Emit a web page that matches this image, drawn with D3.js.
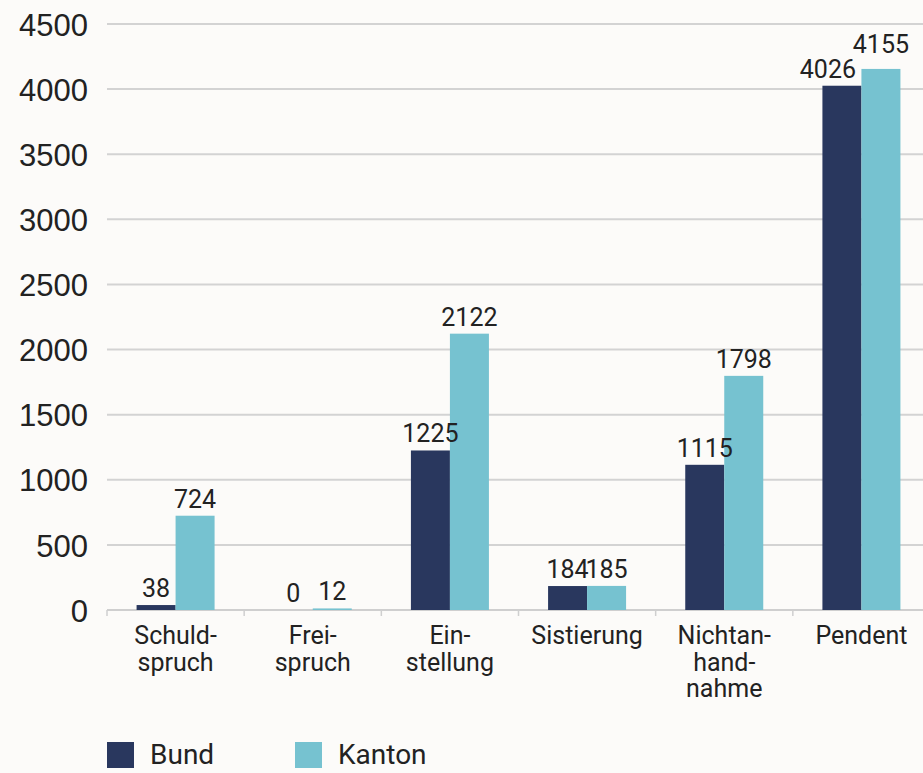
<!DOCTYPE html>
<html>
<head>
<meta charset="utf-8">
<script src="https://cdn.jsdelivr.net/npm/d3@7"></script>
<style>
  html, body { margin: 0; padding: 0; background: #fcfbf9; }
  svg { display: block; font-family: Roboto, "Noto Sans", sans-serif; }
</style>
</head>
<body>
<div id="plot"></div>
<script>
// Chart data
const categories = ["Schuldspruch", "Freispruch", "Einstellung", "Sistierung", "Nichtanhandnahme", "Pendent"];
const categoryLines = [["Schuld-", "spruch"], ["Frei-", "spruch"], ["Ein-", "stellung"], ["Sistierung"], ["Nichtan-", "hand-", "nahme"], ["Pendent"]];
const seriesNames = ["Bund", "Kanton"];
const bundValues = [38, 0, 1225, 184, 1115, 4026];
const kantonValues = [724, 12, 2122, 185, 1798, 4155];
const yTicks = [0, 500, 1000, 1500, 2000, 2500, 3000, 3500, 4000, 4500];

const colors = { Bund: "#29375e", Kanton: "#76c2d0" };

const width = 923;
const height = 773;
const margin = { top: 24, right: 0, bottom: 163, left: 107 };

const svg = d3.select("#plot")
  .append("svg")
  .attr("width", width)
  .attr("height", height);

// Scales (last band runs past the right edge, as in the original)
const x0 = d3.scaleBand()
  .domain(categories)
  .range([margin.left, 930])
  .padding(0);

const groupWidth = 78;
const x1 = d3.scaleBand()
  .domain(seriesNames)
  .range([(x0.bandwidth() - groupWidth) / 2, (x0.bandwidth() + groupWidth) / 2]);

const y = d3.scaleLinear()
  .domain([0, 4500])
  .range([height - margin.bottom, margin.top]);

// Gridlines
svg.append("g")
  .selectAll("line")
  .data(yTicks.filter(d => d > 0))
  .enter()
  .append("line")
  .attr("x1", margin.left)
  .attr("x2", width - margin.right)
  .attr("y1", d => y(d))
  .attr("y2", d => y(d))
  .attr("stroke", "#d3d3d3")
  .attr("stroke-width", 2);

// Y axis labels
const yAxis = svg.append("g")
  .attr("transform", `translate(${margin.left - 19},0)`)
  .call(d3.axisLeft(y).tickValues(yTicks).tickFormat(d3.format("d")).tickSize(0).tickPadding(0));
yAxis.select(".domain").remove();
yAxis.selectAll("text")
  .attr("font-size", "31px")
  .attr("fill", "#222")
  .attr("dy", "0.36em");

// X axis baseline with small ticks at band boundaries
const xAxis = svg.append("g")
  .attr("transform", `translate(0,${y(0)})`);
xAxis.append("line")
  .attr("x1", margin.left)
  .attr("x2", width - margin.right)
  .attr("stroke", "#cfcfcf")
  .attr("stroke-width", 2);
xAxis.selectAll(".tick")
  .data(categories)
  .enter()
  .append("line")
  .attr("x1", d => x0(d))
  .attr("x2", d => x0(d))
  .attr("y1", 0)
  .attr("y2", 6)
  .attr("stroke", "#cfcfcf")
  .attr("stroke-width", 1.5);

// Bars
const rows = categories.map((c, i) => ({
  category: c,
  values: [
    { key: "Bund", value: bundValues[i] },
    { key: "Kanton", value: kantonValues[i] }
  ]
}));

const groups = svg.append("g")
  .selectAll("g")
  .data(rows)
  .enter()
  .append("g")
  .attr("transform", d => `translate(${x0(d.category)},0)`);

groups.selectAll("rect")
  .data(d => d.values)
  .enter()
  .append("rect")
  .attr("x", d => x1(d.key))
  .attr("y", d => y(d.value))
  .attr("width", x1.bandwidth())
  .attr("height", d => y(0) - y(d.value))
  .attr("fill", d => colors[d.key]);

// Value labels (nudge the Pendent pair apart so they don't collide)
const labelShift = { "Pendent-Bund": [-14, 0], "Pendent-Kanton": [0, -8] };
groups.each(function (row) {
  d3.select(this).selectAll("text.value")
    .data(row.values)
    .enter()
    .append("text")
    .attr("class", "value")
    .attr("x", d => x1(d.key) + x1.bandwidth() / 2 + (labelShift[row.category + "-" + d.key] || [0, 0])[0])
    .attr("y", d => y(d.value) - 8 + (labelShift[row.category + "-" + d.key] || [0, 0])[1])
    .attr("text-anchor", "middle")
    .attr("font-size", "25px")
    .attr("fill", "#222")
    .text(d => d.value);
});

// Category labels
categories.forEach((c, i) => {
  const t = svg.append("text")
    .attr("x", x0(c) + x0.bandwidth() / 2)
    .attr("y", y(0) + 34)
    .attr("text-anchor", "middle")
    .attr("font-size", "25px")
    .attr("fill", "#222");
  categoryLines[i].forEach((line, j) => {
    t.append("tspan")
      .attr("x", x0(c) + x0.bandwidth() / 2)
      .attr("dy", j === 0 ? 0 : 26.5)
      .text(line);
  });
});

// Legend
const legend = svg.append("g")
  .attr("transform", "translate(107,742)");
const legendX = [0, 188];
seriesNames.forEach((s, i) => {
  legend.append("rect")
    .attr("x", legendX[i])
    .attr("y", 0)
    .attr("width", 27)
    .attr("height", 26)
    .attr("fill", colors[s]);
  legend.append("text")
    .attr("x", legendX[i] + 43)
    .attr("y", 22)
    .attr("font-size", "28px")
    .attr("fill", "#222")
    .text(s);
});
</script>
</body>
</html>
